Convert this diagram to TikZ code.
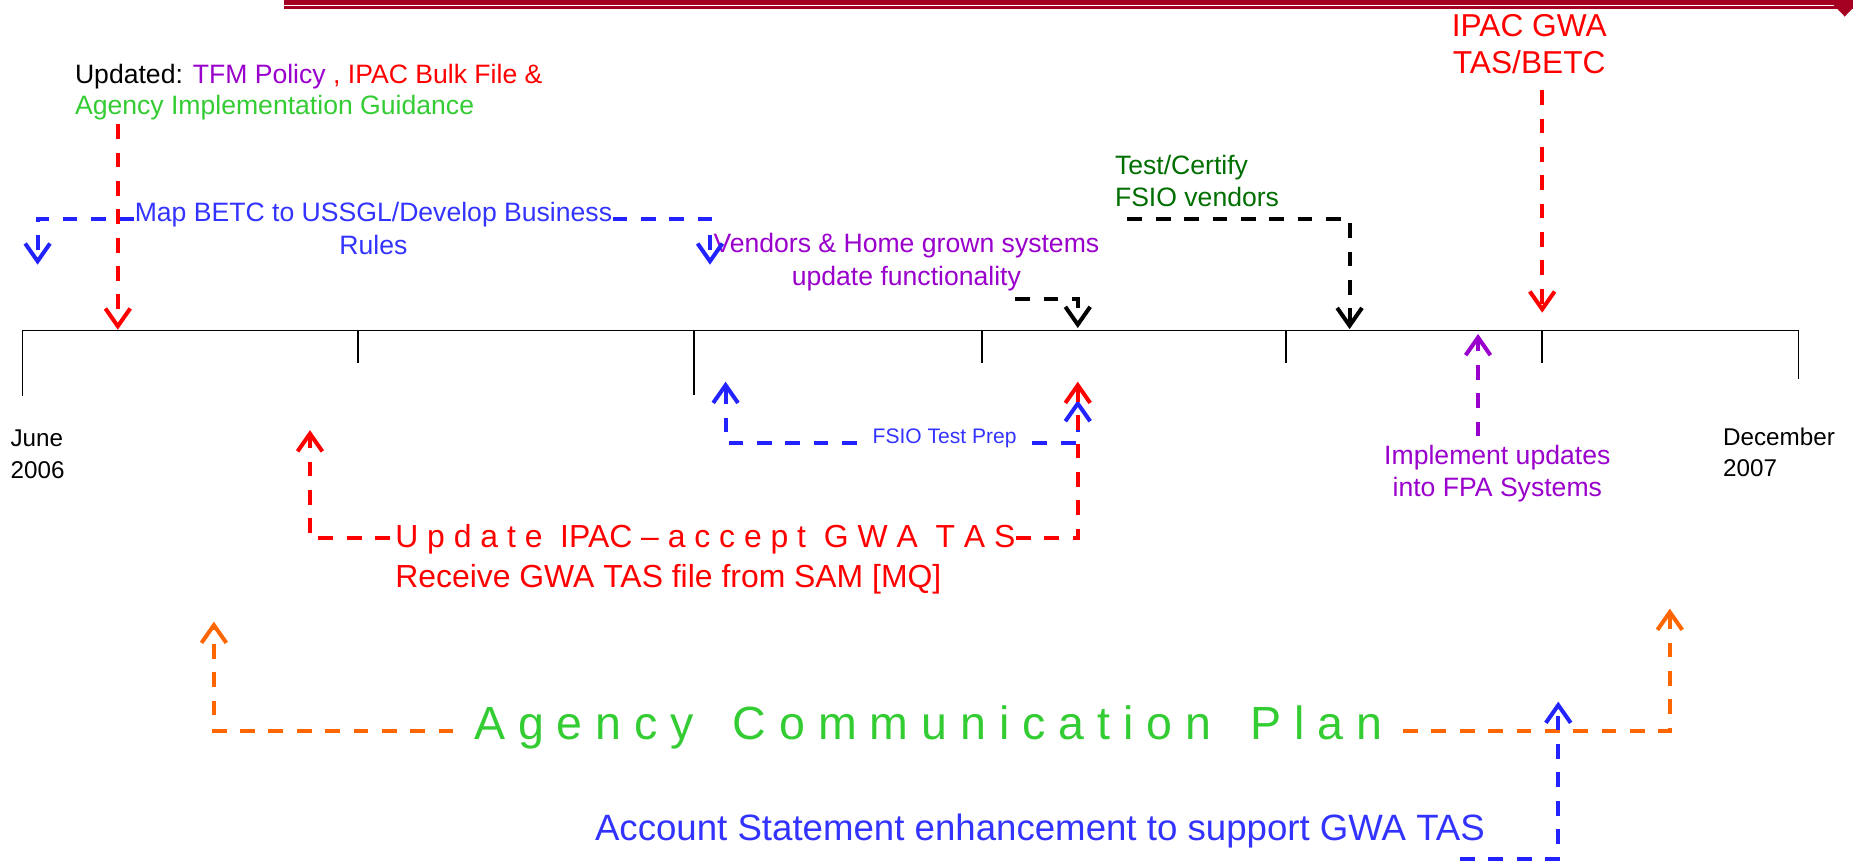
\documentclass[tikz,border=0pt]{standalone}
\usepackage{fontspec}
\setmainfont{Liberation Sans}
\usetikzlibrary{arrows.meta}

\definecolor{hdrred}{RGB}{165,0,33}
\definecolor{txtblue}{RGB}{51,51,255}
\definecolor{lnblue}{RGB}{35,35,255}
\definecolor{purp}{RGB}{153,0,204}
\definecolor{grn}{RGB}{51,204,51}
\definecolor{dkgrn}{RGB}{0,110,0}
\definecolor{orng}{RGB}{255,102,0}

\newcommand{\fsz}[2]{\fontsize{#1}{#2}\selectfont}

\begin{document}
\begin{tikzpicture}[x=1pt,y=-1pt,
   lbl/.style={inner sep=0.5pt, outer sep=0pt},
   dsh/.style={line width=3.4pt, dash pattern=on 12.5pt off 11.5pt},
   arr/.style={-{Straight Barb[length=15pt,width=21pt]}},
   axisline/.style={line width=1.4pt}]

   \useasboundingbox (0,0) rectangle (1568,733);

   % header bar
   \fill [hdrred] (240,-1) rectangle (1568,3.9);
   \fill [hdrred] (240,5.5) rectangle (1568,8);
   \fill [hdrred] (1549.5,2) -- (1572.5,2) -- (1561,14) -- cycle;

   % timeline
   \draw [axisline] (18.9,279.8) -- (1522,279.8);
   \foreach \x/\y in {18.9/335, 303.2/307.4, 587.5/334, 831/307.4, 1088/307.4, 1305/307.4, 1522/321}
      \draw [axisline] (\x,279.8) -- (\x,\y);

   % labels (base = last line)
   \node (updated) at (63,97) [lbl, anchor=base west, align=left, font={\fsz{22.5}{26.5}}] {Updated: \textcolor{purp}{TFM Policy} \textcolor{red}{, IPAC Bulk File \&}\\\textcolor{grn}{Agency Implementation Guidance}};
   \node (map) at (316,215) [lbl, anchor=base, align=center, text=txtblue, font={\fsz{22.5}{27.4}}] {Map BETC to USSGL/Develop Business\\Rules};
   \node (vendors) at (767,242) [lbl, anchor=base, align=center, text=purp, font={\fsz{22.5}{28}}] {Vendors \& Home grown systems\\update functionality};
   \node (test) at (943,175) [lbl, anchor=base west, align=left, text=dkgrn, font={\fsz{22.5}{27}}] {Test/Certify\\FSIO vendors};
   \node (ipac) at (1294,62.6) [lbl, anchor=base, align=center, text=red, font={\fsz{26.8}{32}}] {IPAC GWA\\TAS/BETC};
   \node (impl) at (1267,420) [lbl, anchor=base, align=center, text=purp, font={\fsz{22.5}{27}}] {Implement updates\\into FPA Systems};
   \node (june) at (8.5,405) [lbl, anchor=base west, align=left, font={\fsz{20.5}{27}}] {June\\2006};
   \node (december) at (1457.6,403.6) [lbl, anchor=base west, align=left, font={\fsz{20.5}{27}}] {December\\2007};
   \node (fsio) at (799.3,375) [lbl, anchor=base, text=txtblue, font={\fsz{17.8}{21}}] {FSIO Test Prep};
   \node (update) at (334,497) [lbl, anchor=base west, align=left, text=red, font={\fsz{27}{33.6}}] {U p d a t e \ IPAC – a c c e p t \ G W A \ T A S\\Receive GWA TAS file from SAM [MQ]};
   \node (agency) at (785.5,625.6) [lbl, anchor=base, text=grn, font={\fsz{39.4}{46}}] {A g e n c y \ \ C o m m u n i c a t i o n \ \ P l a n};
   \node (account) at (880,710.8) [lbl, anchor=base, text=txtblue, font={\fsz{31}{36}}] {Account Statement enhancement to support GWA TAS};

   % corners and tips
   \coordinate (mapL) at (31.8,185);
   \coordinate (mapLtip) at (31.8,224);
   \coordinate (mapR) at (600.8,185);
   \coordinate (mapRtip) at (600.8,224);
   \coordinate (updTip) at (99.7,279);
   \coordinate (vendS) at (859,253);
   \coordinate (vendC) at (912,253);
   \coordinate (vendTip) at (912,277.6);
   \coordinate (testS) at (954,185);
   \coordinate (testC) at (1142,185);
   \coordinate (testTip) at (1142,278.5);
   \coordinate (ipacTip) at (1305,264.6);
   \coordinate (implTip) at (1250.7,282.6);
   \coordinate (fsioL) at (614,375);
   \coordinate (fsioLtip) at (614,323);
   \coordinate (fsioR) at (912,375);
   \coordinate (fsioRtip) at (912,338.5);
   \coordinate (updL) at (262.3,455.5);
   \coordinate (updLtip) at (262.3,364);
   \coordinate (updR) at (912,455.5);
   \coordinate (updRtip) at (912,323);
   \coordinate (agL) at (181,618.6);
   \coordinate (agLtip) at (181,526);
   \coordinate (agR) at (1413,618.6);
   \coordinate (agRtip) at (1413,515);
   \coordinate (acS) at (1235.5,727);
   \coordinate (acC) at (1318.6,727);
   \coordinate (acTip) at (1318.6,593.7);

   % connectors
   \draw [dsh, arr, lnblue] (map.west |- mapL) -- (mapL) -- (mapLtip);
   \draw [dsh, arr, lnblue] (map.east |- mapR) -- (mapR) -- (mapRtip);
   \draw [dsh, arr, red, shorten <=3pt] (updated.south -| updTip) -- (updTip);
   \draw [dsh, arr] (vendS) -- (vendC) -- (vendTip);
   \draw [dsh, arr] (testS) -- (testC) -- (testTip);
   \draw [dsh, arr, red, shorten <=13pt] (ipac.south -| ipacTip) -- (ipacTip);
   \draw [dsh, arr, purp, shorten <=7pt] (impl.north -| implTip) -- (implTip);
   \draw [dsh, arr, lnblue, shorten <=13pt] (fsio.west |- fsioL) -- (fsioL) -- (fsioLtip);
   \draw [dsh, arr, lnblue, shorten <=13pt] (fsio.east |- fsioR) -- (fsioR) -- (fsioRtip);
   \draw [dsh, arr, red, shorten <=4pt] (update.west |- updL) -- (updL) -- (updLtip);
   \draw [dsh, arr, red] (update.east |- updR) -- (updR) -- (updRtip);
   \draw [dsh, arr, orng, shorten <=17pt] (agency.west |- agL) -- (agL) -- (agLtip);
   \draw [dsh, arr, orng, shorten <=17pt] (agency.east |- agR) -- (agR) -- (agRtip);
   \draw [dsh, arr, lnblue] (acS) -- (acC) -- (acTip);

\end{tikzpicture}
\end{document}
